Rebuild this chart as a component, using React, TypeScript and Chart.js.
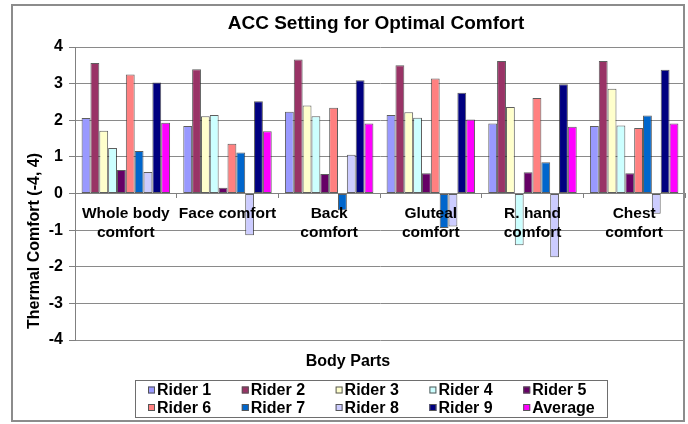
import React, { useEffect, useRef } from "react";
import { Chart, registerables } from "chart.js";

Chart.register(...registerables);

const chartTitle = "ACC Setting for Optimal Comfort";
const xTitle = "Body Parts";
const yTitle = "Thermal Comfort (-4, 4)";

const categories: (string | string[])[] = [
  ["Whole body", "comfort"],
  "Face comfort",
  ["Back", "comfort"],
  ["Gluteal", "comfort"],
  ["R. hand", "comfort"],
  ["Chest", "comfort"],
];

const seriesNames = [
  "Rider 1", "Rider 2", "Rider 3", "Rider 4", "Rider 5",
  "Rider 6", "Rider 7", "Rider 8", "Rider 9", "Average",
];

const seriesColors = [
  "#9999FF", "#993366", "#FFFFCC", "#CCFFFF", "#660066",
  "#FF8080", "#0066CC", "#CCCCFF", "#000080", "#FF00FF",
];

const rider1 = [2.06, 1.84, 2.23, 2.14, 1.91, 1.84];
const rider2 = [3.56, 3.39, 3.66, 3.5, 3.62, 3.62];
const rider3 = [1.71, 2.11, 2.4, 2.22, 2.36, 2.86];
const rider4 = [1.24, 2.14, 2.11, 2.07, -1.41, 1.86];
const rider5 = [0.64, 0.16, 0.53, 0.55, 0.58, 0.55];
const rider6 = [3.25, 1.36, 2.34, 3.14, 2.61, 1.79];
const rider7 = [1.16, 1.12, -0.46, -0.94, 0.85, 2.13];
const rider8 = [0.59, -1.14, 1.06, -0.9, -1.74, -0.55];
const rider9 = [3.03, 2.52, 3.09, 2.75, 2.98, 3.38];
const average = [1.93, 1.7, 1.91, 2.02, 1.82, 1.91];

const seriesValues = [rider1, rider2, rider3, rider4, rider5, rider6, rider7, rider8, rider9, average];

const yMin = -4;
const yMax = 4;
const yStep = 1;

const FONT = "'Liberation Sans', Arial, Helvetica, sans-serif";

const decorPlugin = {
  id: "decor",
  afterDraw(chart: any) {
    const ctx: CanvasRenderingContext2D = chart.ctx;
    ctx.save();
    // outer chart frame
    ctx.strokeStyle = "#8c8c8c";
    ctx.lineWidth = 2;
    ctx.strokeRect(12, 5, 672, 416);

    ctx.fillStyle = "#000";
    ctx.textAlign = "center";
    ctx.textBaseline = "middle";
    ctx.font = `bold 19px ${FONT}`;
    ctx.fillText(chartTitle, 376, 24);

    ctx.font = `bold 16px ${FONT}`;
    ctx.fillText(xTitle, 348, 362);

    ctx.save();
    ctx.translate(35, 241);
    ctx.rotate(-Math.PI / 2);
    ctx.fillText(yTitle, 0, 0);
    ctx.restore();

    // legend
    ctx.strokeStyle = "#6e6e6e";
    ctx.lineWidth = 1;
    ctx.strokeRect(135.5, 380.5, 472, 37);
    ctx.textAlign = "left";
    ctx.font = `bold 16px ${FONT}`;
    chart.data.datasets.forEach((ds: any, i: number) => {
      const col = i % 5;
      const row = Math.floor(i / 5);
      const x = 148 + col * 93.8;
      const y = row === 0 ? 390 : 407.5;
      ctx.fillStyle = ds.backgroundColor;
      ctx.fillRect(x, y - 3.5, 7, 7);
      ctx.strokeStyle = "#555";
      ctx.strokeRect(x + 0.5, y - 3, 6, 6);
      ctx.fillStyle = "#000";
      ctx.fillText(ds.label, x + 9, y + 1);
    });
    ctx.restore();
  },
};

export default function App() {
  const canvasRef = useRef<HTMLCanvasElement | null>(null);

  useEffect(() => {
    if (!canvasRef.current) return;
    const chart = new Chart(canvasRef.current, {
      type: "bar",
      data: {
        labels: categories as any,
        datasets: seriesNames.map((name, i) => ({
          label: name,
          data: seriesValues[i],
          backgroundColor: seriesColors[i],
          borderColor: "rgba(40,40,40,0.75)",
          borderWidth: 1,
          borderSkipped: false,
          categoryPercentage: 0.87,
          barPercentage: 1.0,
        })),
      },
      options: {
        responsive: false,
        animation: false,
        devicePixelRatio: 1,
        layout: { padding: { left: 0, top: 47, right: 3, bottom: 84 } },
        plugins: {
          legend: { display: false },
          title: { display: false },
          tooltip: { enabled: false },
        },
        scales: {
          x: {
            type: "category",
            position: { y: 0 } as any,
            offset: true,
            grid: {
              display: true,
              offset: true,
              drawOnChartArea: false,
              drawTicks: true,
              tickLength: 4,
              tickColor: "#808080",
            },
            border: { display: true, color: "#808080", width: 1 },
            ticks: {
              z: 1,
              autoSkip: false,
              maxRotation: 0,
              minRotation: 0,
              padding: 7,
              color: "#000",
              font: { family: FONT, size: 15.5, weight: "bold", lineHeight: 1.2 },
            },
          },
          y: {
            min: yMin,
            max: yMax,
            afterFit: (s: any) => {
              s.width = 75;
            },
            grid: {
              color: "#8a8a8a",
              lineWidth: 1,
              drawTicks: true,
              tickLength: 6,
              tickColor: "#808080",
            },
            border: { display: true, color: "#808080", width: 1 },
            ticks: {
              stepSize: yStep,
              padding: 6,
              color: "#000",
              font: { family: FONT, size: 16, weight: "bold" },
            },
          },
        },
      },
      plugins: [decorPlugin],
    });
    return () => chart.destroy();
  }, []);

  return (
    <div style={{ position: "fixed", left: 0, top: 0, width: 688, height: 424, background: "#fff" }}>
      <canvas ref={canvasRef} width={688} height={424} style={{ display: "block" }} />
    </div>
  );
}
